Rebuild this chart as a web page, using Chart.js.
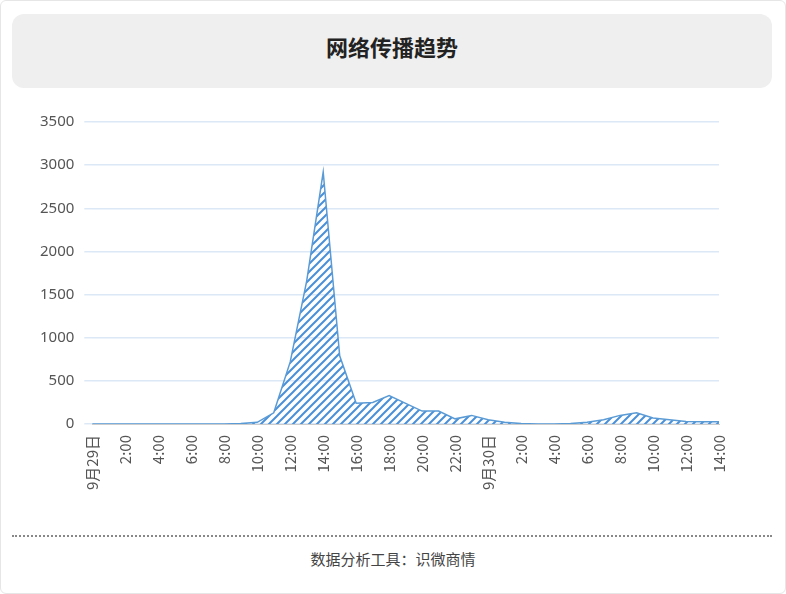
<!DOCTYPE html>
<html><head><meta charset="utf-8">
<script src="https://cdn.jsdelivr.net/npm/chart.js@4"></script>
<style>
body{margin:0;background:#fff;font-family:"Noto Sans CJK SC","Noto Sans",sans-serif;}
#wrap{position:absolute;left:0;top:0;width:784px;height:592px;border:1px solid #e6e6e6;border-radius:6px;}
#title{position:absolute;left:12px;top:14px;width:760px;height:74px;background:#efefef;border-radius:12px;text-align:center;line-height:64px;font-size:22px;font-weight:bold;color:#222;}
#cw{position:absolute;left:30px;top:103px;width:710px;height:390px;}
#sep{position:absolute;left:12px;top:535px;width:760px;border-top:2px dotted #888;}
#foot{position:absolute;left:0;top:548px;width:786px;text-align:center;font-size:15px;color:#444;}
</style></head><body>
<div id="wrap"></div>
<div id="title">网络传播趋势</div>
<div id="cw"><canvas id="c"></canvas></div>
<div id="sep"></div>
<div id="foot">数据分析工具：识微商情</div>
<script>
const labels=["9月29日","1:00","2:00","3:00","4:00","5:00","6:00","7:00","8:00","9:00","10:00","11:00","12:00","13:00","14:00","15:00","16:00","17:00","18:00","19:00","20:00","21:00","22:00","23:00","9月30日","1:00","2:00","3:00","4:00","5:00","6:00","7:00","8:00","9:00","10:00","11:00","12:00","13:00","14:00"];
const values=[0,0,0,0,0,0,0,0,0,5,20,130,720,1660,2920,790,240,250,330,240,150,150,60,100,50,20,5,0,0,5,20,50,100,130,70,50,30,25,25];
const yTicks=[0,500,1000,1500,2000,2500,3000,3500];
const pc=document.createElement('canvas');pc.width=8;pc.height=8;
const px=pc.getContext('2d');px.strokeStyle='#4a90d9';px.lineWidth=2;
px.beginPath();px.moveTo(-2,10);px.lineTo(10,-2);px.moveTo(-2,2);px.lineTo(2,-2);px.moveTo(6,10);px.lineTo(10,6);px.stroke();
const pat=document.createElement('canvas').getContext('2d').createPattern(pc,'repeat');
new Chart(document.getElementById('c'),{type:'line',
data:{labels,datasets:[{data:values,borderColor:'#5b9bd5',borderWidth:1.5,backgroundColor:pat,fill:true,pointRadius:0,tension:0}]},
options:{responsive:true,maintainAspectRatio:false,animation:false,
plugins:{legend:{display:false},tooltip:{enabled:false}},
layout:{padding:{right:10}},
scales:{
x:{grid:{display:false},border:{color:'#ccc'},ticks:{autoSkip:false,maxRotation:90,minRotation:90,color:'#555',font:{size:15,family:'Noto Sans CJK SC'},callback:(v,i)=>i%2===0?labels[i]:''}},
y:{min:0,max:3500,afterBuildTicks:a=>{a.ticks=yTicks.map(v=>({value:v}));},grid:{color:'#dce8f5',lineWidth:1.5},border:{display:false},ticks:{color:'#555',padding:10,font:{size:15,family:'Noto Sans'},callback:v=>String(v)}}
}}});
</script></body></html>
